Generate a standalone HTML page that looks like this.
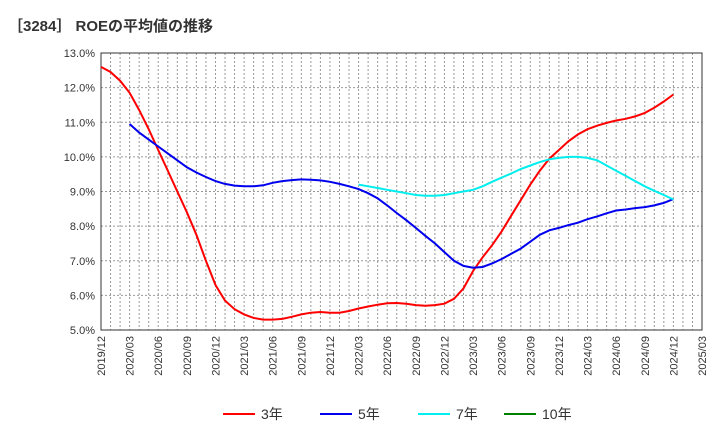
<!DOCTYPE html>
<html><head><meta charset="utf-8">
<style>
body{margin:0;background:#fff;font-family:"Liberation Sans","Noto Sans CJK JP",sans-serif;}
</style></head>
<body>
<svg id="chart" width="720" height="440" xmlns="http://www.w3.org/2000/svg" font-family="Liberation Sans, Noto Sans CJK JP, sans-serif">
<text x="8" y="31" font-size="15" font-weight="bold" fill="#333">［3284］ ROEの平均値の推移</text>
<g id="grid"></g><g id="axes"></g><g id="series"></g>
<g id="legend"></g>
</svg>
<script>
const xTickLabels=["2019/12","2020/03","2020/06","2020/09","2020/12","2021/03","2021/06","2021/09","2021/12","2022/03","2022/06","2022/09","2022/12","2023/03","2023/06","2023/09","2023/12","2024/03","2024/06","2024/09","2024/12","2025/03"];
const yTicks=[5,6,7,8,9,10,11,12,13];
const roe3=[12.6,12.45,12.2,11.85,11.35,10.8,10.2,9.6,9.0,8.4,7.75,7.0,6.3,5.85,5.6,5.45,5.35,5.3,5.3,5.32,5.38,5.45,5.5,5.52,5.5,5.5,5.55,5.62,5.68,5.73,5.77,5.78,5.76,5.72,5.7,5.72,5.76,5.9,6.2,6.7,7.1,7.45,7.85,8.3,8.75,9.2,9.6,9.95,10.2,10.45,10.65,10.8,10.9,10.98,11.05,11.1,11.17,11.27,11.42,11.6,11.8];
const roe5=[null,null,null,10.95,10.7,10.5,10.3,10.1,9.9,9.7,9.55,9.42,9.3,9.22,9.17,9.15,9.15,9.18,9.25,9.3,9.33,9.35,9.34,9.32,9.28,9.22,9.15,9.07,8.95,8.8,8.6,8.38,8.17,7.95,7.72,7.5,7.25,7.0,6.85,6.8,6.82,6.92,7.05,7.2,7.35,7.55,7.75,7.88,7.95,8.03,8.1,8.2,8.28,8.37,8.45,8.48,8.52,8.55,8.6,8.67,8.78];
const roe7=[null,null,null,null,null,null,null,null,null,null,null,null,null,null,null,null,null,null,null,null,null,null,null,null,null,null,null,9.2,9.15,9.1,9.05,9.0,8.95,8.9,8.88,8.88,8.9,8.95,9.0,9.05,9.15,9.28,9.4,9.52,9.65,9.75,9.85,9.93,9.97,10.0,10.0,9.97,9.9,9.75,9.6,9.45,9.3,9.15,9.02,8.9,8.77];
const roe10=[];
const L=101,R=702,T=53,B=330,NM=63;
const X=i=>L+(R-L)*i/NM;
const Y=v=>B-(v-5)/8*(B-T);
const NS="http://www.w3.org/2000/svg";
function mk(tag,attrs,parent){const e=document.createElementNS(NS,tag);for(const k in attrs)e.setAttribute(k,attrs[k]);parent.appendChild(e);return e;}
const grid=document.getElementById('grid'),axes=document.getElementById('axes'),ser=document.getElementById('series'),leg=document.getElementById('legend');
for(let i=1;i<NM;i++){const g=mk('line',{x1:X(i),x2:X(i),y1:T,y2:B,stroke:'#999','stroke-dasharray':'2,2','stroke-width':1},grid);

}
yTicks.forEach(v=>{if(v>5&&v<13){const g=mk('line',{x1:L,x2:R,y1:Y(v),y2:Y(v),stroke:'#999','stroke-dasharray':'2,2'},grid);

}
const t=mk('text',{x:L-6,y:Y(v)+4,'font-size':11,'text-anchor':'end',fill:'#333'},axes);t.textContent=v.toFixed(1)+'%';

});
const fr=mk('rect',{x:L,y:T,width:R-L,height:B-T,fill:'none',stroke:'#333'},axes);


xTickLabels.forEach((s,k)=>{const x=X(k*3);const t=mk('text',{transform:`translate(${x+4},${B+6}) rotate(-90)`,'font-size':11,'text-anchor':'end',fill:'#333'},axes);t.textContent=s;

});
function line(arr,color,name){let d='';arr.forEach((v,i)=>{if(v==null)return;d+=(d?'L':'M')+X(i).toFixed(1)+','+Y(v).toFixed(1);});
if(!d)return;const p=mk('path',{d:d,fill:'none',stroke:color,'stroke-width':2},ser);

}
line(roe3,'#ff0000','line-3yr');line(roe5,'#0000ee','line-5yr');line(roe7,'#00eeee','line-7yr');line(roe10,'#008000','line-10yr');
[['3年','#ff0000',223],['5年','#0000ee',320],['7年','#00eeee',418],['10年','#008000',504]].forEach(([s,c,x])=>{
const g=mk('g',{},leg);


mk('line',{x1:x,x2:x+32,y1:414,y2:414,stroke:c,'stroke-width':2},g);
const t=mk('text',{x:x+38,y:419,'font-size':14,fill:'#333'},g);t.textContent=s;});
</script>
</body></html>
